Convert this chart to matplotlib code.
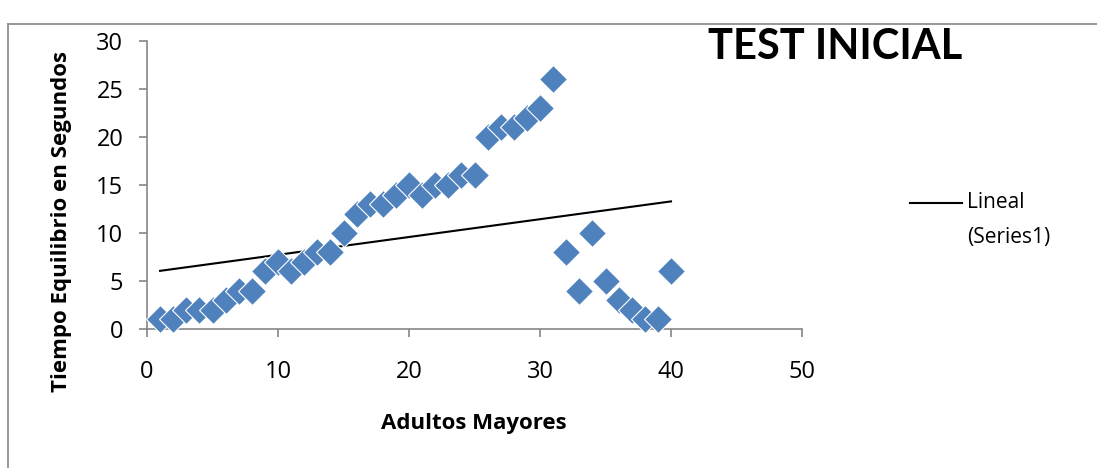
import numpy as np
import matplotlib
matplotlib.use('Agg')
from matplotlib import pyplot as plt
from matplotlib.lines import Line2D

plt.rcParams['font.family'] = ['Open Sans', 'DejaVu Sans']

# datos
adultos = list(range(1, 41))
tiempo = [1, 1, 2, 2, 2, 3, 4, 4, 6, 7,
          6, 7, 8, 8, 10, 12, 13, 13, 14, 15,
          14, 15, 15, 16, 16, 20, 21, 21, 22, 23,
          26, 8, 4, 10, 5, 3, 2, 1, 1, 6]
x_ticks = [0, 10, 20, 30, 40, 50]
y_ticks = [0, 5, 10, 15, 20, 25, 30]


def main():
    W, H = 1097, 468
    fig = plt.figure(figsize=(W / 100, H / 100), dpi=100)
    ax = fig.add_axes([147 / W, 1 - 329 / H, (802 - 147) / W, (329 - 41) / H])

    gris = '#868686'
    # marco del area del grafico
    fig.add_artist(Line2D([8 / W, 8 / W], [0, 1 - 24 / H], transform=fig.transFigure, color=gris, lw=1.2))
    fig.add_artist(Line2D([8 / W, 1], [1 - 24 / H, 1 - 24 / H], transform=fig.transFigure, color=gris, lw=1.2))

    ax.plot(adultos, tiempo, linestyle='none', marker='D', markersize=14,
            color='#4F81BD', markeredgecolor='white', markeredgewidth=0.8, zorder=3, clip_on=False)

    # linea de tendencia lineal (como en excel)
    m, b = np.polyfit(adultos, tiempo, 1)
    xs = np.array([adultos[0], adultos[-1]])
    ax.plot(xs, m * xs + b, color='black', lw=1.5, zorder=2)

    ax.set_xlim(0, 50)
    ax.set_ylim(0, 30)
    ax.set_xticks(x_ticks)
    ax.set_yticks(y_ticks)
    for s in ['top', 'right']:
        ax.spines[s].set_visible(False)
    for s in ['left', 'bottom']:
        ax.spines[s].set_color(gris)
        ax.spines[s].set_linewidth(1.2)
        ax.spines[s].set_zorder(1)
    ax.tick_params(direction='out', length=6, width=1.2, color=gris, labelsize=17)
    ax.tick_params(axis='x', pad=16)
    ax.tick_params(axis='y', pad=11)

    fig.text(474 / W, 1 - 424 / H, 'Adultos Mayores', fontsize=16, fontweight='bold',
             ha='center', va='center')
    fig.text(62 / W, 1 - 221 / H, 'Tiempo Equilibrio en Segundos', fontsize=16, fontweight='bold',
             ha='center', va='center', rotation=90)

    fig.text(835 / W, 1 - 47 / H, 'TEST INICIAL', fontsize=30, fontweight='bold',
             ha='center', va='center', family=['Lato', 'DejaVu Sans'])

    # leyenda
    fig.add_artist(Line2D([910 / W, 962 / W], [1 - 203 / H, 1 - 203 / H], transform=fig.transFigure,
                          color='black', lw=1.5))
    fig.text(967 / W, 1 - 203 / H, 'Lineal', fontsize=15, ha='left', va='center')
    fig.text(967 / W, 1 - 238 / H, '(Series1)', fontsize=15, ha='left', va='center')

    plt.savefig('out.png', dpi=100)
    plt.close()


if __name__ == '__main__':
    main()
